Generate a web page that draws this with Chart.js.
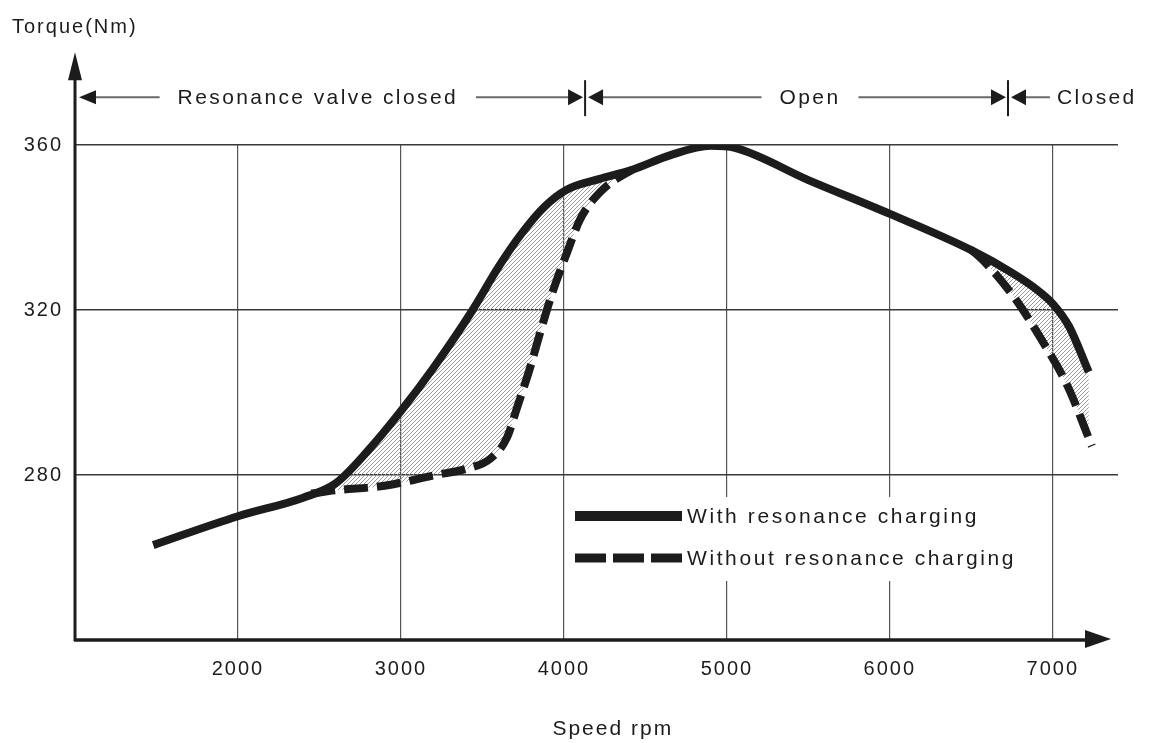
<!DOCTYPE html>
<html>
<head>
<meta charset="utf-8">
<title>Torque vs speed</title>
<script src="https://cdn.jsdelivr.net/npm/chart.js@4.4.1/dist/chart.umd.min.js"></script>
<style>
  html, body { margin: 0; padding: 0; background: #fff; }
  #wrap { width: 1154px; height: 743px; }
</style>
</head>
<body>
<div id="wrap"><canvas id="torqueChart" width="1154" height="743"></canvas></div>
<script>
// Values
const speedWith = [1480, 2000, 2400, 2600, 2800, 3000, 3200, 3440, 3600, 3740, 3880, 4020, 4220, 4420, 4650, 4900, 5050, 5500, 6000, 6500, 6750, 6900, 7000, 7100, 7220];
const torqueWith = [263, 270, 274.5, 278, 286, 295.5, 306, 320, 330.5, 338.5, 345, 349.2, 351.8, 354, 357.5, 359.8, 359.3, 351.5, 343.3, 334.5, 329, 325, 321.5, 316, 305];

const speedWithout = [2450, 2600, 2900, 3200, 3400, 3550, 3650, 3710, 3790, 3855, 3930, 4020, 4100, 4220, 4420, 4650, 4900, 5050, 5500, 6000, 6500, 6740, 6940, 7090, 7240];
const torqueWithout = [275.5, 276.3, 277.4, 279.9, 281.5, 284, 289, 296, 305.7, 314.6, 324.3, 334, 342, 348.5, 354, 357.5, 359.8, 359.3, 351.5, 343.3, 334.5, 324.3, 312.2, 301.6, 287];

// where both curves are the same line (dashed one hidden under the solid one)
const sharedSpeeds = [4420, 6500];

const speedTicks = [2000, 3000, 4000, 5000, 6000, 7000];
const torqueTicks = [280, 320, 360];
const seriesLabels = ['With resonance charging', 'Without resonance charging'];

// Resonance valve states along the top
const valveSwitchSpeeds = [4130, 6725];
const valveLabels = ['Resonance valve closed', 'Open', 'Closed'];
const valveLabelSpeeds = [2490, 5510, 7270];

const FONT = '"Liberation Sans", Arial, sans-serif';
const INK = '#1c1c1c';

// light dotted hatching for the gain area
function makeHatch() {
  const c = document.createElement('canvas');
  c.width = 4; c.height = 4;
  const g = c.getContext('2d');
  g.fillStyle = '#9a9a9a';
  g.fillRect(0, 3, 1, 1);
  g.fillRect(1, 2, 1, 1);
  g.fillRect(2, 1, 1, 1);
  g.fillRect(3, 0, 1, 1);
  return g.createPattern(c, 'repeat');
}

function toPoints(xs, ys) {
  return xs.map((v, i) => ({ x: v, y: ys[i] }));
}

function triangle(ctx, x1, y1, x2, y2, x3, y3) {
  ctx.beginPath();
  ctx.moveTo(x1, y1);
  ctx.lineTo(x2, y2);
  ctx.lineTo(x3, y3);
  ctx.closePath();
  ctx.fill();
}

function hline(ctx, a, b, yy) {
  if (b <= a) return;
  ctx.beginPath();
  ctx.moveTo(a, yy);
  ctx.lineTo(b, yy);
  ctx.stroke();
}

const decorations = {
  id: 'decorations',
  beforeDraw(chart) {
    chart.ctx.letterSpacing = '2px';
  },
  afterDraw(chart) {
    const { ctx, chartArea, scales } = chart;
    const x = scales.x, y = scales.y;
    const ax = chartArea.left, ay = chartArea.bottom;
    ctx.save();
    ctx.fillStyle = INK;
    ctx.strokeStyle = INK;

    // axes with arrow heads
    const yTip = y.getPixelForValue(382.5);
    const xTip = x.getPixelForValue(7357);
    ctx.lineWidth = 3;
    ctx.beginPath();
    ctx.moveTo(ax, ay + 1);
    ctx.lineTo(ax, yTip + 20);
    ctx.stroke();
    triangle(ctx, ax, yTip, ax - 7, yTip + 28, ax + 7, yTip + 28);
    ctx.lineWidth = 3.5;
    ctx.beginPath();
    ctx.moveTo(ax - 1, ay);
    ctx.lineTo(xTip - 20, ay);
    ctx.stroke();
    triangle(ctx, xTip, ay - 1, xTip - 26, ay - 10, xTip - 26, ay + 8);

    // valve state band
    const by = y.getPixelForValue(371.6);
    const s1 = x.getPixelForValue(valveSwitchSpeeds[0]);
    const s2 = x.getPixelForValue(valveSwitchSpeeds[1]);
    ctx.font = '21px ' + FONT;
    ctx.letterSpacing = '2.4px';
    ctx.textBaseline = 'middle';
    ctx.textAlign = 'left';
    const boxes = valveLabels.map((t, i) => {
      const w = ctx.measureText(t).width;
      const c = x.getPixelForValue(valveLabelSpeeds[i]);
      return { t, l: c - w / 2, r: c + w / 2 };
    });
    ctx.strokeStyle = '#6a6a6a';
    ctx.lineWidth = 2;
    hline(ctx, ax + 18, boxes[0].l - 18, by);
    hline(ctx, boxes[0].r + 18, s1 - 10, by);
    hline(ctx, s1 + 10, boxes[1].l - 18, by);
    hline(ctx, boxes[1].r + 18, s2 - 10, by);
    hline(ctx, s2 + 10, boxes[2].l - 7, by);
    ctx.fillStyle = INK;
    ctx.strokeStyle = INK;
    triangle(ctx, ax + 4, by, ax + 21, by - 7, ax + 21, by + 7);
    [s1, s2].forEach(s => {
      triangle(ctx, s - 2, by, s - 17, by - 8, s - 17, by + 8);
      triangle(ctx, s + 3, by, s + 18, by - 8, s + 18, by + 8);
      ctx.lineWidth = 2;
      ctx.beginPath();
      ctx.moveTo(s, by - 17);
      ctx.lineTo(s, by + 19);
      ctx.stroke();
    });
    boxes.forEach(b => ctx.fillText(b.t, b.l, by + 1));

    // axis titles
    ctx.letterSpacing = '2px';
    ctx.font = '20px ' + FONT;
    ctx.textAlign = 'left';
    ctx.fillText('Torque(Nm)', 12, 27);
    ctx.font = '21px ' + FONT;
    ctx.textAlign = 'center';
    ctx.fillText('Speed rpm', x.getPixelForValue(4300), ay + 89);

    // legend inside the plot
    const lx = 575, ly = 516, gap = 42;
    ctx.fillStyle = '#fff';
    ctx.fillRect(lx - 4, ly - 19, 456, 84);
    chart.data.datasets.forEach((ds, i) => {
      const yy = ly + i * gap;
      ctx.strokeStyle = INK;
      ctx.lineWidth = i === 0 ? 10 : 9;
      ctx.setLineDash(i === 0 ? [] : [31, 7]);
      ctx.lineCap = 'butt';
      ctx.beginPath();
      ctx.moveTo(lx, yy);
      ctx.lineTo(lx + 107, yy);
      ctx.stroke();
      ctx.setLineDash([]);
      ctx.fillStyle = INK;
      ctx.font = '21px ' + FONT;
      ctx.letterSpacing = '2.6px';
      ctx.textAlign = 'left';
      ctx.fillText(ds.label, lx + 112, yy + 1);
    });
    ctx.restore();
  }
};

const hatch = makeHatch();

new Chart(document.getElementById('torqueChart'), {
  type: 'scatter',
  data: {
    datasets: [
      {
        label: seriesLabels[0],
        data: toPoints(speedWith, torqueWith),
        showLine: true,
        borderColor: INK,
        borderWidth: 8,
        pointRadius: 0,
        cubicInterpolationMode: 'monotone',
        fill: false
      },
      {
        label: seriesLabels[1],
        data: toPoints(speedWithout, torqueWithout),
        showLine: true,
        borderColor: INK,
        borderWidth: 8,
        borderDash: [24, 9],
        borderCapStyle: 'butt',
        pointRadius: 0,
        cubicInterpolationMode: 'monotone',
        segment: {
          borderColor: c => (c.p0.parsed.x >= sharedSpeeds[0] && c.p1.parsed.x <= sharedSpeeds[1]) ? 'rgba(0,0,0,0)' : undefined
        },
        fill: { target: 0, above: hatch, below: hatch }
      }
    ]
  },
  options: {
    responsive: false,
    animation: false,
    layout: { padding: { top: 145, right: 36, left: 0, bottom: 0 } },
    plugins: {
      legend: { display: false },
      tooltip: { enabled: false }
    },
    scales: {
      x: {
        type: 'linear',
        min: 1000,
        max: 7400,
        afterBuildTicks: s => { s.ticks = speedTicks.map(v => ({ value: v })); },
        afterFit: s => { s.height = 103; },
        grid: { color: '#555', lineWidth: 1.2, drawTicks: false },
        border: { display: false },
        ticks: {
          padding: 17,
          color: INK,
          font: { family: FONT, size: 20 },
          maxRotation: 0,
          autoSkip: false,
          callback: v => String(v)
        }
      },
      y: {
        min: 240,
        max: 360,
        afterBuildTicks: s => { s.ticks = torqueTicks.map(v => ({ value: v })); },
        afterFit: s => { s.width = 75; },
        grid: { color: '#3a3a3a', lineWidth: 1.5, drawTicks: false },
        border: { display: false },
        ticks: {
          padding: 12,
          color: INK,
          font: { family: FONT, size: 20 },
          callback: v => String(v)
        }
      }
    }
  },
  plugins: [decorations]
});
</script>
</body>
</html>
